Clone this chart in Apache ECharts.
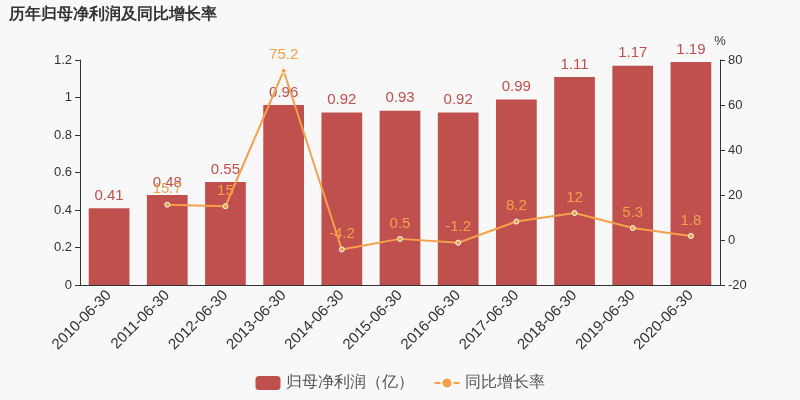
<!DOCTYPE html>
<html><head><meta charset="utf-8">
<script src="https://cdn.jsdelivr.net/npm/echarts@6/dist/echarts.min.js"></script>
<style>html,body{margin:0;background:#f8f8f8}#c{width:800px;height:400px}</style>
</head><body><div id="c"></div>
<script>
const categories=['2010-06-30','2011-06-30','2012-06-30','2013-06-30','2014-06-30','2015-06-30','2016-06-30','2017-06-30','2018-06-30','2019-06-30','2020-06-30'];
const profit=[0.41,0.48,0.55,0.96,0.92,0.93,0.92,0.99,1.11,1.17,1.19];
const growth=[null,15.7,15,75.2,-4.2,0.5,-1.2,8.2,12,5.3,1.8];
const c=echarts.init(document.getElementById('c'));
c.setOption({
backgroundColor:'#f8f8f8',
title:{text:'历年归母净利润及同比增长率',left:4,top:2,textStyle:{fontSize:16,fontWeight:'bold',color:'#333'}},
legend:{bottom:4,itemGap:20,textStyle:{fontSize:16,color:'#555'},data:['归母净利润（亿）','同比增长率']},
grid:{left:80,right:80,top:60,bottom:115},
xAxis:{type:'category',data:categories,axisLabel:{rotate:45,fontSize:15,color:'#333',interval:0},axisTick:{show:false},axisLine:{lineStyle:{color:'#333'}}},
yAxis:[{type:'value',min:0,max:1.2,interval:0.2,splitLine:{show:false},axisLine:{show:true,lineStyle:{color:'#333'}},axisTick:{show:true},axisLabel:{color:'#333',fontSize:13}},
{type:'value',min:-20,max:80,interval:20,name:'%',nameGap:12,nameTextStyle:{color:'#333',fontSize:13},splitLine:{show:false},axisLine:{show:true,lineStyle:{color:'#333'}},axisTick:{show:true},axisLabel:{color:'#333',fontSize:13}}],
series:[{name:'归母净利润（亿）',type:'bar',data:profit,barWidth:'70%',itemStyle:{color:'#c0504d'},label:{show:true,position:'top',color:'#c0504d',fontSize:15}},
{name:'同比增长率',type:'line',yAxisIndex:1,data:growth,symbol:'circle',symbolSize:5,lineStyle:{color:'#f5a04a',width:2},itemStyle:{color:'#f5a04a',borderColor:'#fff',borderWidth:1},label:{show:true,position:'top',color:'#f5a04a',fontSize:15}}]
});
</script></body></html>
